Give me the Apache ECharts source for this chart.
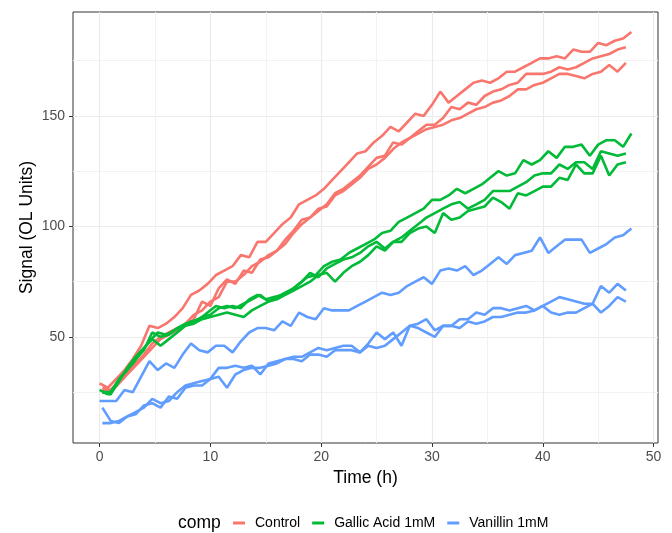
<!DOCTYPE html>
<html>
<head>
<meta charset="utf-8">
<script src="https://cdn.jsdelivr.net/npm/echarts@6/dist/echarts.min.js"></script>
<style>html,body{margin:0;padding:0;background:#fff}#c{width:672px;height:533px}</style>
</head>
<body>
<div id="c"></div>
<script>
// Time points (h)
const timesA = [0,0.75,1.5,2.25,3,3.75,4.5,5.25,6,6.75,7.5,8.25,9,9.75,10.5,11.25,12,12.75,13.5,14.25,15,15.75,16.5,17.25,18,18.75,19.5,20.25,21,21.75,22.5,23.25,24,24.75,25.5,26.25,27,27.75,28.5,29.25,30,30.75,31.5,32.25,33,33.75,34.5,35.25,36,36.75,37.5,38.25,39,39.75,40.5,41.25,42,42.75,43.5,44.25,45,45.75,46.5,47.25,48];
const timesB = [0.25,1,1.75,2.5,3.25,4,4.75,5.5,6.25,7,7.75,8.5,9.25,10,10.75,11.5,12.25,13,13.75,14.5,15.25,16,16.75,17.5,18.25,19,19.75,20.5,21.25,22,22.75,23.5,24.25,25,25.75,26.5,27.25,28,28.75,29.5,30.25,31,31.75,32.5,33.25,34,34.75,35.5,36.25,37,37.75,38.5,39.25,40,40.75,41.5,42.25,43,43.75,44.5,45.25,46,46.75,47.5];

// Control
const control1 = [29,27,31,35,40,46,55,54,56,59,63,69,71,74,78,80,82,87,86,93,93,97,101,104,110,112,114,117,121,125,129,133,134,138,141,145,143,147,151,150,155,161,156,159,162,165,166,165,167,170,170,172,174,176,176,177,176,180,179,179,183,182,184,185,188];
const control2 = [27,26,30,34,38,42,47,50,52,54,55,58,66,64,72,76,74,80,79,85,86,89,92,97,101,104,107,110,115,117,120,123,127,131,132,138,137,140,143,146,146,149,154,153,156,155,159,161,162,164,165,169,169,169,170,172,171,172,174,176,177,178,180,181];
const control3 = [26,25,29,33,37,41,45,49,51,53,56,60,62,66,68,75,75,78,82,84,87,89,94,98,103,104,108,109,114,116,119,122,126,128,131,135,138,140,142,144,145,146,148,149,151,153,154,156,157,159,162,162,164,165,167,169,169,168,167,169,170,173,170,174];
// Gallic Acid 1mM
const gallic1 = [26,24,28,34,38,43,48,52,51,53,55,57,58,61,64,63,64,63,67,69,67,68,69,71,74,77,78,82,84,85,88,90,92,94,97,98,102,104,106,108,112,112,114,117,115,117,119,122,125,123,124,130,128,130,134,131,136,136,137,132,137,139,139,136,142];
const gallic2 = [25,25,31,35,40,44,52,50,51,54,56,57,59,60,63,64,63,65,67,69,66,68,70,72,75,79,77,81,83,85,86,88,91,93,90,93,95,98,101,104,106,108,110,111,108,110,112,116,116,116,118,120,123,124,124,128,126,129,129,126,134,133,132,133];
const gallic3 = [25,24,30,36,41,45,49,46,49,52,55,56,58,59,60,61,60,59,62,64,66,67,69,71,73,75,78,79,75,79,82,84,87,91,89,93,93,97,99,100,97,106,103,104,107,108,109,113,111,108,115,114,116,118,118,122,121,128,124,124,132,123,128,129];
// Vanillin 1mM
const vanillin1 = [21,21,21,26,25,32,39,35,38,36,42,47,44,43,46,46,43,48,52,54,54,53,57,55,61,59,58,63,62,62,62,64,66,68,70,69,70,73,75,77,74,80,81,80,82,78,80,83,86,83,87,88,89,95,88,91,94,94,94,88,90,92,95,96,99];
const vanillin2 = [18,12,11,14,16,18,22,20,21,25,28,29,30,31,36,36,37,36,37,33,38,39,40,41,41,43,45,44,45,46,46,43,47,52,49,52,46,55,56,58,53,55,55,58,58,61,60,63,63,62,63,64,62,64,66,68,67,66,65,65,73,70,74,71];
const vanillin3 = [11,11,12,14,15,19,20,18,23,22,27,28,28,31,32,27,33,35,36,36,37,38,40,40,39,42,42,41,44,44,44,43,46,45,46,49,52,55,54,52,50,55,55,54,57,56,57,59,59,60,61,61,62,64,61,60,61,61,63,65,61,64,68,66];

const groups = ['Control','Gallic Acid 1mM','Vanillin 1mM'];
const xMajor = [0,10,20,30,40,50];
const xMinor = [5,15,25,35,45];
const yMajor = [50,100,150];
const yMinor = [25,75,125,175];

const colors = {'Control':'#F8766D','Gallic Acid 1mM':'#00BA38','Vanillin 1mM':'#619CFF'};
const lines = [
  ['Control', timesA, control1], ['Control', timesB, control2], ['Control', timesB, control3],
  ['Gallic Acid 1mM', timesA, gallic1], ['Gallic Acid 1mM', timesB, gallic2], ['Gallic Acid 1mM', timesB, gallic3],
  ['Vanillin 1mM', timesA, vanillin1], ['Vanillin 1mM', timesB, vanillin2], ['Vanillin 1mM', timesB, vanillin3]
];

const FONT = "'Liberation Sans', Arial, Helvetica, sans-serif";
const chart = echarts.init(document.getElementById('c'), null, {renderer:'canvas'});

const series = lines.map(([name, t, v]) => ({
  name: name,
  type: 'line',
  data: t.map((x, i) => [x, v[i]]),
  showSymbol: false,
  symbol: 'none',
  color: colors[name],
  lineStyle: {width: 2.6, color: colors[name]},
  emphasis: {disabled: true},
  silent: true,
  animation: false,
  xAxisIndex: 0, yAxisIndex: 0
}));

const xRange = {min: -2.4, max: 50.4};
const yRange = {min: 2, max: 197};

chart.setOption({
  animation: false,
  backgroundColor: '#ffffff',
  textStyle: {fontFamily: FONT},
  grid: {left: 73, right: 14, top: 12, bottom: 90, show: true, borderColor: '#333333', borderWidth: 1, backgroundColor: 'transparent', containLabel: false},
  xAxis: [
    {type: 'value', ...xRange, position: 'bottom',
     name: 'Time (h)', nameLocation: 'middle', nameGap: 26, nameMoveOverlap: false,
     nameTextStyle: {fontSize: 17.5, color: '#000000', fontFamily: FONT},
     axisLine: {show: false, onZero: false},
     axisTick: {show: true, customValues: xMajor, length: 4, lineStyle: {color: '#333333', width: 1}},
     axisLabel: {show: true, customValues: xMajor, margin: 7, fontSize: 14, color: '#4D4D4D', fontFamily: FONT},
     splitLine: {show: true, lineStyle: {color: '#EBEBEB', width: 1.2}}},
    {type: 'value', ...xRange, position: 'bottom',
     axisLine: {show: false, onZero: false},
     axisTick: {show: false, customValues: xMinor},
     axisLabel: {show: false, customValues: xMinor},
     splitLine: {show: true, lineStyle: {color: '#F2F2F2', width: 1}}}
  ],
  yAxis: [
    {type: 'value', ...yRange, position: 'left',
     name: 'Signal (OL Units)', nameLocation: 'middle', nameGap: 37, nameMoveOverlap: false,
     nameTextStyle: {fontSize: 17.5, color: '#000000', fontFamily: FONT},
     axisLine: {show: false, onZero: false},
     axisTick: {show: true, customValues: yMajor, length: 4, lineStyle: {color: '#333333', width: 1}},
     axisLabel: {show: true, customValues: yMajor, margin: 8, fontSize: 14, color: '#4D4D4D', fontFamily: FONT},
     splitLine: {show: true, lineStyle: {color: '#EBEBEB', width: 1.2}}},
    {type: 'value', ...yRange, position: 'left',
     axisLine: {show: false, onZero: false},
     axisTick: {show: false, customValues: yMinor},
     axisLabel: {show: false, customValues: yMinor},
     splitLine: {show: true, lineStyle: {color: '#F2F2F2', width: 1}}}
  ],
  legend: {
    data: groups.map(g => ({name: g, icon: 'rect', itemStyle: {color: colors[g]}})),
    left: 228, top: 511,
    orient: 'horizontal',
    itemWidth: 12, itemHeight: 3, itemGap: 12,
    selectedMode: false,
    textStyle: {fontSize: 14, color: '#000000', fontFamily: FONT, padding: [0, 0, 0, 5]}
  },
  graphic: [
    {type: 'text', left: 178, top: 514, silent: true,
     style: {text: 'comp', fontSize: 17.5, fill: '#000000', fontFamily: FONT}}
  ],
  series: series
});
</script>
</body>
</html>
